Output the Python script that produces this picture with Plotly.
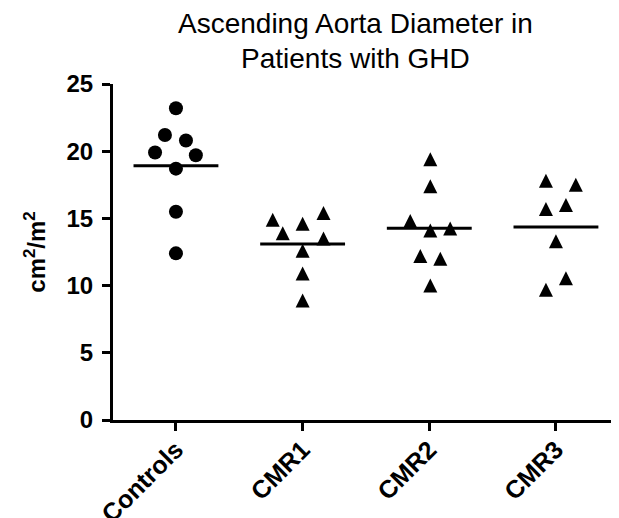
import plotly.graph_objects as go

categories = ["Controls", "CMR1", "CMR2", "CMR3"]
controls = [23.2, 21.2, 20.8, 19.9, 19.7, 18.7, 15.5, 12.4]
cmr1 = [14.9, 13.9, 14.6, 15.4, 13.5, 12.6, 10.9, 8.9]
cmr2 = [19.4, 17.4, 14.8, 14.1, 14.25, 12.2, 12.0, 10.0]
cmr3 = [17.8, 17.5, 15.7, 16.0, 13.3, 10.55, 9.7]
# horizontal scatter spread of points within each group (category units)
controls_jit = [0, -0.087, 0.079, -0.165, 0.157, 0, 0, 0]
cmr1_jit = [-0.236, -0.157, 0, 0.165, 0.165, 0, 0, 0]
cmr2_jit = [0.008, 0.008, -0.15, 0.008, 0.165, -0.071, 0.087, 0.008]
cmr3_jit = [-0.079, 0.157, -0.079, 0.079, 0, 0.079, -0.079]
y_ticks = [0, 5, 10, 15, 20, 25]
title_lines = ["Ascending Aorta Diameter in", "Patients with GHD"]

groups = [controls, cmr1, cmr2, cmr3]
jits = [controls_jit, cmr1_jit, cmr2_jit, cmr3_jit]

W, H = 611, 510
ML, MR, MT, MB = 105, 2, 76, 98
plot_h = H - MT - MB
px_per_unit = plot_h / 25.0
tri_size = 14
shift = (tri_size / 2) / px_per_unit  # center arrow-up triangles on their values

fig = go.Figure()
for i, (vals, jit) in enumerate(zip(groups, jits)):
    xs = [i + j for j in jit]
    if i == 0:
        fig.add_trace(go.Scatter(x=xs, y=vals, mode="markers",
                                 marker=dict(symbol="circle", size=14, color="black"),
                                 showlegend=False, cliponaxis=False))
    else:
        fig.add_trace(go.Scatter(x=xs, y=vals, mode="markers", yaxis="y2",
                                 marker=dict(symbol="arrow-up", size=tri_size, color="black",
                                             line=dict(width=0)),
                                 showlegend=False, cliponaxis=False))
    m = sum(vals) / len(vals)
    fig.add_trace(go.Scatter(x=[i - 0.335, i + 0.335], y=[m, m], mode="lines",
                             line=dict(color="black", width=3),
                             showlegend=False, cliponaxis=False))

fam = "Liberation Sans, Arial, sans-serif"
font_b = dict(family=fam, color="black", weight="bold")

plot_w = W - ML - MR
def px_to_paper_x(px):
    return (px - ML) / plot_w
def py_to_paper_y(py):
    return (H - MB - py) / plot_h

for k, (line, cy) in enumerate(zip(title_lines, [16.0, 50.0])):
    fig.add_annotation(text=line, xref="paper", yref="paper",
                       x=px_to_paper_x(347), y=py_to_paper_y(cy),
                       xanchor="center", yanchor="middle", showarrow=False,
                       font=dict(family=fam, size=28, color="black"))

fig.update_layout(
    width=W, height=H,
    paper_bgcolor="white", plot_bgcolor="white",
    margin=dict(l=ML, r=MR, t=MT, b=MB, autoexpand=False),
    xaxis=dict(range=[-0.497, 3.482], tickmode="array", tickvals=[0, 1, 2, 3],
               ticktext=categories, tickangle=-45, automargin=False,
               showline=True, linecolor="black", linewidth=3,
               ticks="outside", ticklen=8, tickwidth=3, tickcolor="black",
               showgrid=False, zeroline=False, ticklabelstandoff=-6,
               tickfont=dict(size=25, **font_b)),
    yaxis=dict(range=[0, 25], tickmode="array", tickvals=y_ticks, automargin=False,
               showline=True, linecolor="black", linewidth=3,
               ticks="outside", ticklen=8, tickwidth=3, tickcolor="black",
               showgrid=False, zeroline=False, ticklabelstandoff=4,
               tickfont=dict(size=24, **font_b),
               title=dict(text="cm<sup>2</sup>/m<sup>2</sup>", font=dict(size=24, **font_b),
                          standoff=15)),
    yaxis2=dict(range=[0 - shift, 25 - shift], overlaying="y", visible=False,
                showgrid=False, zeroline=False),
)

fig.write_html("out.html")
